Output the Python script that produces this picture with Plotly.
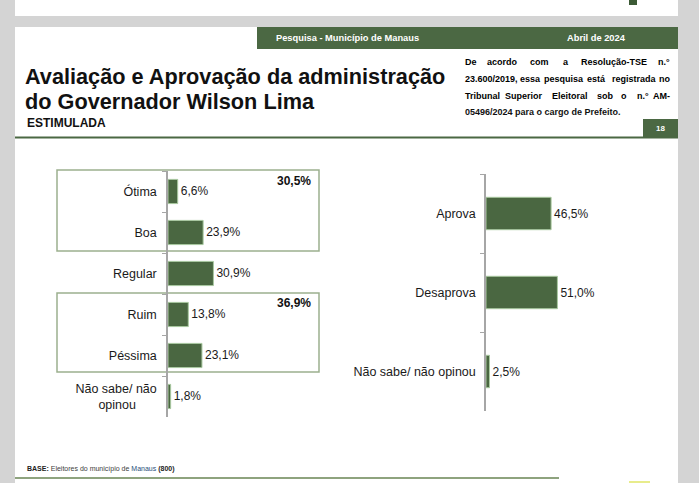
import plotly.graph_objects as go

# ---- data -----------------------------------------------------------------------------------
aval_labels = ["Ótima", "Boa", "Regular", "Ruim", "Péssima", "Não sabe/ não<br>opinou" + "&nbsp;" * 6]
aval_values = [6.6, 23.9, 30.9, 13.8, 23.1, 1.8]
aprov_labels = ["Aprova", "Desaprova", "Não sabe/ não opinou"]
aprov_values = [46.5, 51.0, 2.5]
positive_group = ["Ótima", "Boa"]
negative_group = ["Ruim", "Péssima"]

W, H = 699, 483
GREEN = "#4b6843"
BAR = "#4a6741"
FONT = "Liberation Sans, Arial, sans-serif"
NARROW = "Liberation Sans Narrow, Arial Narrow, Liberation Sans, sans-serif"


def px(x):
    return x / W


def py(y):
    return 1 - y / H


def pct(v):
    return f"{v:.1f}%".replace(".", ",")


def rect(x0, y0, x1, y1, fill=None, line=None, lw=0):
    return dict(type="rect", xref="paper", yref="paper", x0=px(x0), x1=px(x1), y0=py(y1), y1=py(y0),
                fillcolor=fill or "rgba(0,0,0,0)", line=dict(color=line or "rgba(0,0,0,0)", width=lw),
                layer="below")


def hline(x0, x1, y, color, lw):
    return dict(type="line", xref="paper", yref="paper", x0=px(x0), x1=px(x1), y0=py(y), y1=py(y),
                line=dict(color=color, width=lw))


def txt(x, y, s, size, color="#000", family=FONT, xanchor="left", yanchor="middle"):
    return dict(x=px(x), y=py(y), xref="paper", yref="paper", text=s, showarrow=False,
                xanchor=xanchor, yanchor=yanchor, font=dict(size=size, color=color, family=family))


def justify(line, x0, x1, y, size):
    """spread the words of one line between x0 and x1 (the slide's justified text box)."""
    words = line.split(" ")
    cw = 0.47 * size
    widths = [len(w) * cw for w in words]
    gap = (x1 - x0 - sum(widths)) / (len(words) - 1)
    out, x = [], x0
    for i, (w, wd) in enumerate(zip(words, widths)):
        if i == 0:
            out.append(txt(x0, y, f"<b>{w}</b>", size, family=NARROW, xanchor="left"))
        elif i == len(words) - 1:
            out.append(txt(x1, y, f"<b>{w}</b>", size, family=NARROW, xanchor="right"))
        else:
            out.append(txt(x + wd / 2, y, f"<b>{w}</b>", size, family=NARROW, xanchor="center"))
        x += wd + gap
    return out


fig = go.Figure()

fig.add_trace(go.Bar(
    x=aval_values, y=aval_labels, orientation="h", width=0.59,
    marker=dict(color=BAR, line=dict(color="#a9c9a0", width=1)),
    text=[pct(v) for v in aval_values], textposition="outside", cliponaxis=False,
    textfont=dict(size=12, color="#1a1a1a", family=FONT),
    xaxis="x", yaxis="y", hoverinfo="skip", showlegend=False))

fig.add_trace(go.Bar(
    x=aprov_values, y=aprov_labels, orientation="h", width=0.41,
    marker=dict(color=BAR, line=dict(color="#a9c9a0", width=1)),
    text=[pct(v) for v in aprov_values], textposition="outside", cliponaxis=False,
    textfont=dict(size=12, color="#1a1a1a", family=FONT),
    xaxis="x2", yaxis="y2", hoverinfo="skip", showlegend=False))

yax = dict(type="category", autorange="reversed", showline=True, linecolor="#a6a6a6", linewidth=1.5,
           ticks="outside", tickson="boundaries", ticklen=4, tickcolor="#a6a6a6",
           showgrid=False, zeroline=False, tickfont=dict(size=12.5, color="#1a1a1a", family=FONT))
xax = dict(range=[0, 100], visible=False, showgrid=False, zeroline=False)

fig.update_layout(
    width=W, height=H, margin=dict(l=0, r=0, t=0, b=0),
    paper_bgcolor="#d4d4d4", plot_bgcolor="rgba(0,0,0,0)",
    bargap=0.4,
    xaxis=dict(domain=[px(168), px(315)], anchor="y", **xax),
    yaxis=dict(domain=[py(417), py(171)], anchor="x", ticklabelstandoff=7, **yax),
    xaxis2=dict(domain=[px(486), px(626)], anchor="y2", **xax),
    yaxis2=dict(domain=[py(411), py(174)], anchor="x2", ticklabelstandoff=6, **yax),
)

# ---- slide furniture ------------------------------------------------------------------------
shapes = [
    rect(15, -5, 678, 16, fill="white"),
    rect(629, -5, 637, 5, fill="#3c5a35"),
    rect(15, 27, 678, 490, fill="white"),
    rect(257, 27, 678, 49, fill=GREEN),
    rect(643, 119, 678, 137, fill=GREEN),
    hline(15, 678, 137.5, GREEN, 2),
    hline(15, 559, 478, "#8ea37e", 2),
    hline(629, 650, 482, "#e8ec8c", 2),
    rect(57, 170, 319, 251, line="#9cb08e", lw=1.5),
    rect(57, 293, 319, 372, line="#9cb08e", lw=1.5),
]

ann = [
    txt(274, 38, "<b>Pesquisa - Município de Manaus</b>", 9.3, "white", NARROW),
    txt(565, 38, "<b>Abril de 2024</b>", 9.3, "white", NARROW),
    txt(23, 76, "<b>Avaliação e Aprovação da administração</b>", 21.7, "#111"),
    txt(23, 101, "<b>do Governador Wilson Lima</b>", 21.7, "#111"),
    txt(25, 123, "<b>ESTIMULADA</b>", 12, "#111"),
    txt(660, 128, "<b>18</b>", 8, "white", xanchor="center"),
    txt(25, 469, "<b>BASE:</b> <span style='color:#404040'>Eleitores do município de</span> "
                 "<span style='color:#1f4e79'>Manaus</span> <b>(800)</b>", 7, "#222"),
    txt(313, 181, "<b>" + pct(sum(v for l, v in zip(aval_labels, aval_values) if l in positive_group)) + "</b>",
        12, "#111", xanchor="right"),
    txt(313, 303, "<b>" + pct(sum(v for l, v in zip(aval_labels, aval_values) if l in negative_group)) + "</b>",
        12, "#111", xanchor="right"),
]
ann += justify("De acordo com a Resolução-TSE n.°", 463, 672, 62, 9)
ann += justify("23.600/2019, essa pesquisa está registrada no", 463, 672, 79, 9)
ann += justify("Tribunal Superior Eleitoral sob o n.° AM-", 463, 672, 96, 9)
ann.append(txt(463, 112, "<b>05496/2024 para o cargo de Prefeito.</b>", 9, "#111", NARROW))

fig.update_layout(shapes=shapes, annotations=ann)
# the page's default 8px body margin would shift the slide; drop it
fig.write_html("out.html", config={"displayModeBar": False},
               post_script="document.body.style.margin='0';")
